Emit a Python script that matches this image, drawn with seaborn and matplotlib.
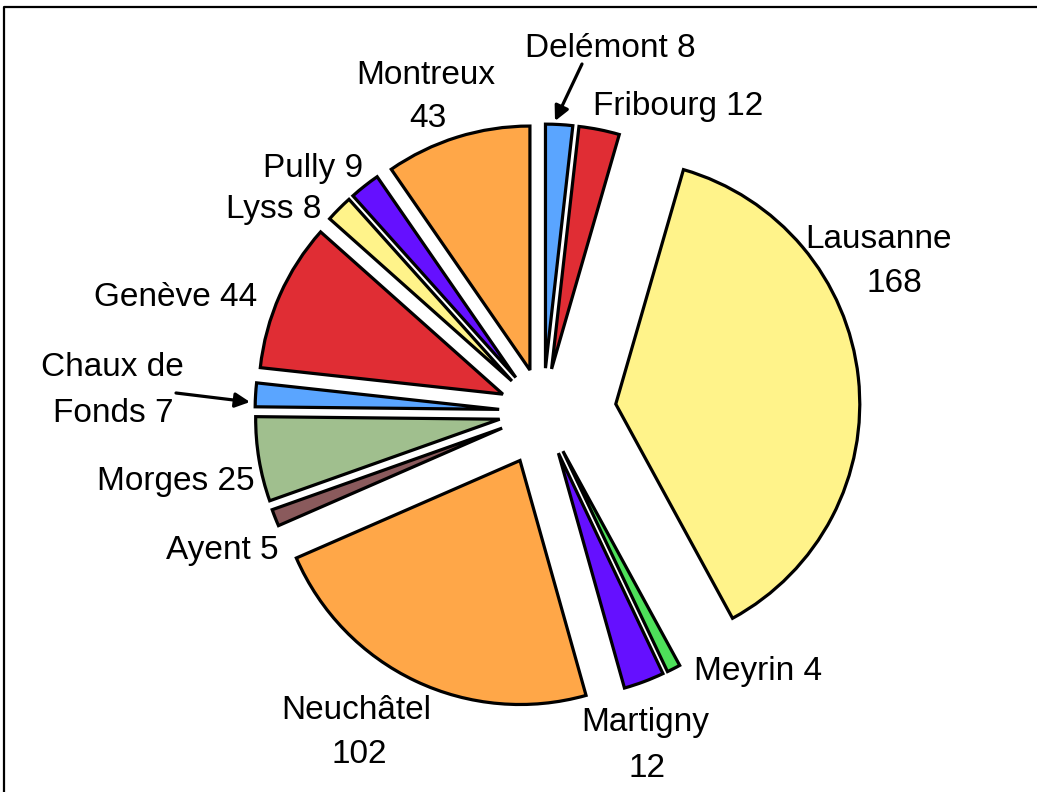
import numpy as np
import matplotlib.pyplot as plt
from matplotlib.lines import Line2D
import seaborn as sns

sns.set_style("white")
plt.rcParams['font.family'] = ['Liberation Sans', 'DejaVu Sans']

# data, clockwise from 12 o'clock
towns = ['Delémont', 'Fribourg', 'Lausanne', 'Meyrin', 'Martigny', 'Neuchâtel',
         'Ayent', 'Morges', 'Chaux de Fonds', 'Genève', 'Lyss', 'Pully', 'Montreux']
counts = [8, 12, 168, 4, 12, 102, 5, 25, 7, 44, 8, 9, 43]
label_lines = [['Delémont 8'], ['Fribourg 12'], ['Lausanne', '168'], ['Meyrin 4'],
               ['Martigny', '12'], ['Neuchâtel', '102'], ['Ayent 5'], ['Morges 25'],
               ['Chaux de', 'Fonds 7'], ['Genève 44'], ['Lyss 8'], ['Pully 9'],
               ['Montreux', '43']]

colors = ['#5aa5ff', '#e02d34', '#fff38a', '#4ee05a', '#6510ff', '#ffa748',
          '#8a5a5c', '#a0bf8e', '#5aa5ff', '#e02d34', '#fff38a', '#6510ff', '#ffa748']
explode = [0.18] * len(counts)
explode[towns.index('Lausanne')] = 0.30
explode[towns.index('Neuchâtel')] = 0.22

W, H = 1037, 792
cx, cy, R = 543, 412, 244   # pie centre / radius in pixels

fig = plt.figure(figsize=(W / 100, H / 100), dpi=100)
ax = fig.add_axes([0, 0, 1, 1])
ax.pie(counts, colors=colors, explode=explode, startangle=90, counterclock=False,
       wedgeprops=dict(edgecolor='black', linewidth=2.3, joinstyle='miter'))
ax.set_xlim(-cx / R, (W - cx) / R)
ax.set_ylim(-(H - cy) / R, cy / R)
ax.set_aspect('equal')
ax.axis('off')

# label placement (pixel x centre, baseline y) per line
label_pos = [[(610, 57)], [(678, 115)], [(879, 248), (894, 292)], [(758, 680)],
             [(645, 731), (647, 777)], [(356, 719), (359, 763)], [(222, 559)],
             [(176, 490)], [(112, 376), (113, 422)], [(176, 306)], [(274, 218)],
             [(313, 177)], [(426, 84), (428, 127)]]

for lines, pos in zip(label_lines, label_pos):
    for txt, (px, py) in zip(lines, pos):
        fig.text(px / W, 1 - py / H, txt, ha='center', va='baseline',
                 fontsize=24, color='black')

arrow = dict(arrowstyle='-|>', lw=2.3, color='black', mutation_scale=22, shrinkA=0, shrinkB=0)
for (x0, y0), (x1, y1) in [((582, 64), (555, 121)), ((176, 393), (250, 402))]:
    ax.annotate('', xy=(x1 / W, 1 - y1 / H), xytext=(x0 / W, 1 - y0 / H),
                xycoords='figure fraction', textcoords='figure fraction', arrowprops=arrow)

# frame (only top and left edges are visible)
fig.add_artist(Line2D([4 / W, 4 / W, 1.0], [0.0, 1 - 7 / H, 1 - 7 / H],
                      transform=fig.transFigure, color='black', lw=1.6))

fig.savefig('out.png', dpi=100, facecolor='white')
